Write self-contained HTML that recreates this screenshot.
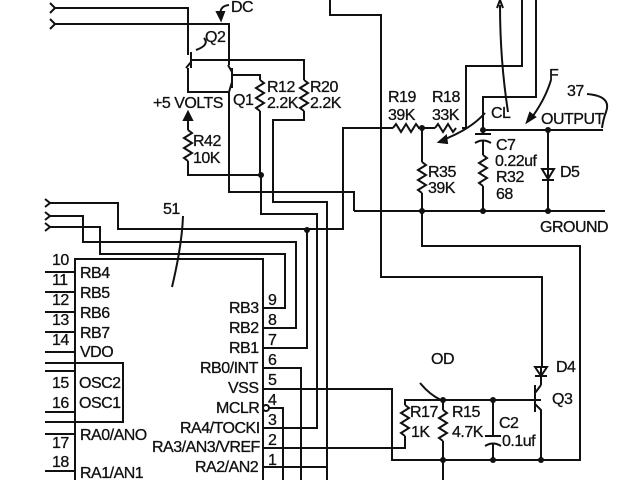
<!DOCTYPE html><html><head><style>body{margin:0;background:#fff}svg{display:block}text{font-family:"Liberation Sans",sans-serif;font-size:16px;fill:#111;stroke:#111;stroke-width:0.3;letter-spacing:-0.5px}</style></head><body>
<svg width="640" height="480" viewBox="0 0 640 480" fill="none" stroke="#111" stroke-width="2">
<path d="M50 3 l5 5 l-5 5 M50 19 l5 5 l-5 5"/>
<path d="M55 8 H188 V55 M55 24 H229 V65"/>
<path d="M191 52 V68 M191 60 H304 V80 M304 111 V120 H273 V202 H327 V480"/>
<path d="M191 62 L186 68 M188 68 V92 H229 V192 H354 V211"/>
<path d="M232 68 V88 M232 72 L228 65 M232 82 L229 92 M232 75 H260 V80 M260 111 V175 H188 V161"/>
<path d="M204 38 Q210 45 196 50" />
<path d="M229 5 Q218 6 221 18"/><path d="M217 12 L221 20 L224 12 Z" fill="#111"/>
<path d="M260 80 l4 3 l-8 5 l8 5 l-8 5 l8 5 l-8 5 l4 3"/>
<path d="M304 80 l4 3 l-8 5 l8 5 l-8 5 l8 5 l-8 5 l4 3"/>
<path d="M188 130 l4 3 l-8 5 l8 5 l-8 5 l8 5 l-8 5 l4 3"/>
<path d="M188 118 V130"/><path d="M184 120 L188 112 L192 120 Z" fill="#111"/>
<path d="M422 162 l4 3 l-8 5 l8 5 l-8 5 l8 5 l-8 5 l4 3"/>
<path d="M483 155 l4 3 l-8 5 l8 5 l-8 5 l8 5 l-8 5 l4 3"/>
<path d="M405 405 l4 3 l-8 5 l8 5 l-8 5 l8 5 l-8 5 l4 3"/>
<path d="M443 410 l4 3 l-8 5 l8 5 l-8 5 l8 5 l-8 5 l4 3"/>
<path d="M393 128 l3 -4 l5 8 l5 -8 l5 8 l5 -8 l3 4"/>
<path d="M435 128 l3 -4 l5 8 l5 -8 l5 8 l3 -4"/>
<path d="M330 0 V15 H381 V277 H542 V367"/>
<path d="M343 230 V128 H393 M418 128 H435 M462 128 H466 V66 H522 V0 M483 130 V97 H536 V0"/>
<path d="M422 128 V162 M422 193 V246 H580 V460 H392 V389 H263"/>
<path d="M483 130 H603 M483 130 V134 M475 134 H491 M475 143 Q483 138 491 143 M483 140 V155 M483 186 V211 M548 130 V211 M354 211 H605"/>
<path d="M542 169 L548 179 L554 169 Z M542 180 H554" />
<path d="M508 112 Q500 60 500 5"/><path d="M497 8 L500 0 L503 8"/>
<path d="M485 113 Q470 130 440 141"/><path d="M446 136 L439 142 L447 143 Z" fill="#111"/>
<path d="M551 80 Q545 100 530 120"/><path d="M530 113 L527 122 L535 117 Z" fill="#111"/>
<path d="M587 94 Q612 96 606 112 Q603 120 602 128"/>
<g fill="#111" stroke="none"><circle cx="261" cy="175" r="3"/><circle cx="307" cy="230" r="3"/><circle cx="422" cy="128" r="3"/><circle cx="483" cy="130" r="3"/><circle cx="548" cy="130" r="3"/><circle cx="422" cy="211" r="3"/><circle cx="483" cy="211" r="3"/><circle cx="548" cy="211" r="3"/><circle cx="443" cy="400" r="3"/><circle cx="493" cy="400" r="3"/><circle cx="443" cy="460" r="3"/><circle cx="493" cy="460" r="3"/><circle cx="541" cy="460" r="3"/></g>
<path d="M45 199 l5 4 l-5 4 M45 212 l5 4 l-5 4 M45 223 l5 4 l-5 4"/>
<path d="M50 203 H118 V229 H343 M50 216 H83 V242 H296 V328 H263 M50 227 H100 V254 H285 V308 H263"/>
<path d="M261 175 V214 H317 V428 H263 M307 230 V348 H263 M263 368 H301 V480 M269 408 H283 V480 M263 448 H405 V436 M405 405 V400 H541 M443 400 V410 M443 441 V480 M493 400 V436 M485 436 H501 M485 446 Q493 441 501 446 M493 443 V460 M263 467 H327"/>
<circle cx="266" cy="408" r="3"/>
<path d="M75 480 V259 H263 V480"/>
<path d="M75 363 H123 V422 H75"/>
<path d="M45 272 H75 M45 292 H75 M45 312 H75 M45 332 H75 M45 352 H75 M45 363 H75 M45 371 H75 M45 412 H75 M45 422 H123 M45 434 H75 M45 471 H75"/>
<path d="M183 216 Q182 245 172 287"/>
<path d="M541 367 V385 M535 367 L541 376 L547 367 Z M535 376 H547 M535 385 V412 M535 393 L541 385 M535 404 L541 410 V460"/>
<path d="M420 383 Q430 395 441 400"/>
</svg>
<svg width="640" height="480" style="position:absolute;left:0;top:0">
<text x="231" y="12">DC</text><text x="205" y="42">Q2</text><text x="233" y="105">Q1</text>
<text x="153" y="108">+5 VOLTS</text><text x="267" y="92">R12</text><text x="267" y="108">2.2K</text>
<text x="310" y="92">R20</text><text x="310" y="108">2.2K</text><text x="193" y="146">R42</text><text x="193" y="163">10K</text>
<text x="388" y="102">R19</text><text x="388" y="120">39K</text><text x="432" y="102">R18</text><text x="432" y="120">33K</text>
<text x="491" y="118">CL</text><text x="549" y="80">F</text><text x="567" y="96">37</text><text x="541" y="124">OUTPUT</text>
<text x="496" y="150">C7</text><text x="495" y="166">0.22uf</text><text x="496" y="182">R32</text><text x="496" y="199">68</text>
<text x="560" y="177">D5</text><text x="428" y="177">R35</text><text x="428" y="193">39K</text><text x="540" y="232">GROUND</text>
<text x="163" y="214">51</text>
<text x="52" y="265">10</text><text x="80" y="278">RB4</text><text x="52" y="285">11</text><text x="80" y="298">RB5</text>
<text x="52" y="305">12</text><text x="80" y="318">RB6</text><text x="52" y="325">13</text><text x="80" y="338">RB7</text>
<text x="52" y="345">14</text><text x="80" y="357">VDO</text><text x="52" y="388">15</text><text x="79" y="388">OSC2</text>
<text x="52" y="408">16</text><text x="79" y="408">OSC1</text><text x="80" y="440">RA0/ANO</text><text x="52" y="448">17</text>
<text x="52" y="467">18</text><text x="80" y="478">RA1/AN1</text>
<text x="229" y="313">RB3</text><text x="229" y="333">RB2</text><text x="229" y="353">RB1</text><text x="200" y="373">RB0/INT</text>
<text x="228" y="393">VSS</text><text x="216" y="413">MCLR</text><text x="180" y="433">RA4/TOCKI</text><text x="152" y="452">RA3/AN3/VREF</text><text x="195" y="472">RA2/AN2</text>
<text x="268" y="305">9</text><text x="268" y="325">8</text><text x="268" y="345">7</text><text x="268" y="365">6</text><text x="268" y="385">5</text><text x="268" y="405">4</text><text x="268" y="425">3</text><text x="268" y="445">2</text><text x="268" y="465">1</text>
<text x="431" y="364">OD</text><text x="410" y="417">R17</text><text x="411" y="437">1K</text><text x="452" y="417">R15</text><text x="452" y="437">4.7K</text>
<text x="499" y="428">C2</text><text x="502" y="446">0.1uf</text><text x="556" y="372">D4</text><text x="552" y="404">Q3</text>
</svg>
</body></html>
